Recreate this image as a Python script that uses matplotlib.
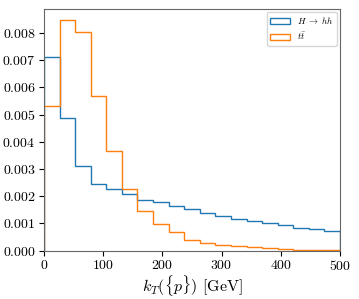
import numpy as np
import matplotlib
matplotlib.use('Agg')
import matplotlib.pyplot as plt

plt.rcParams['font.family'] = 'serif'
plt.rcParams['font.serif'] = ['cmr10']
plt.rcParams['mathtext.fontset'] = 'cm'
plt.rcParams['axes.formatter.use_mathtext'] = True
plt.rcParams['axes.unicode_minus'] = False

# 19 bins from 0 to 500 GeV
edges = np.linspace(0, 500, 20)

# normalised densities
h_hh = [0.00713, 0.00489, 0.00311, 0.00246, 0.00226, 0.00207, 0.00188,
        0.00178, 0.00166, 0.00153, 0.00139, 0.00129, 0.00117, 0.00109,
        0.00101, 0.00095, 0.00083, 0.00078, 0.00073]
h_tt = [0.00533, 0.00846, 0.00803, 0.00570, 0.00365, 0.00228, 0.00147,
        0.00098, 0.00068, 0.00041, 0.00029, 0.00022, 0.00016, 0.00012,
        0.00009, 0.00006, 0.00004, 0.00003, 0.00002]

labels = [r'$H \;\to\; hh$', r'$t\bar{t}$']

fig = plt.figure(figsize=(3.59, 2.99), dpi=100)
ax = fig.add_axes([0.1226, 0.1615, 0.8244, 0.8085])

centers = 0.5 * (edges[:-1] + edges[1:])
ax.hist(centers, bins=edges, weights=h_hh, histtype='step', color='C0',
        lw=1.0, label=labels[0])
ax.hist(centers, bins=edges, weights=h_tt, histtype='step', color='C1',
        lw=1.0, label=labels[1])

ax.set_xlim(0, 500)
ax.set_xticks([0, 100, 200, 300, 400, 500])
ax.set_yticks(np.arange(0, 0.0085, 0.001))
ax.tick_params(labelsize=10, pad=2.5)
ax.set_xlabel(r'$k_T(\{p\})$ [GeV]', fontsize=11.5, labelpad=0)

for s in ax.spines.values():
    s.set_color('0.4')

ax.legend(loc='upper right', fontsize=6.5, handlelength=2.2,
          borderaxespad=0.3, fancybox=True)

fig.savefig('out.png', dpi=100)
